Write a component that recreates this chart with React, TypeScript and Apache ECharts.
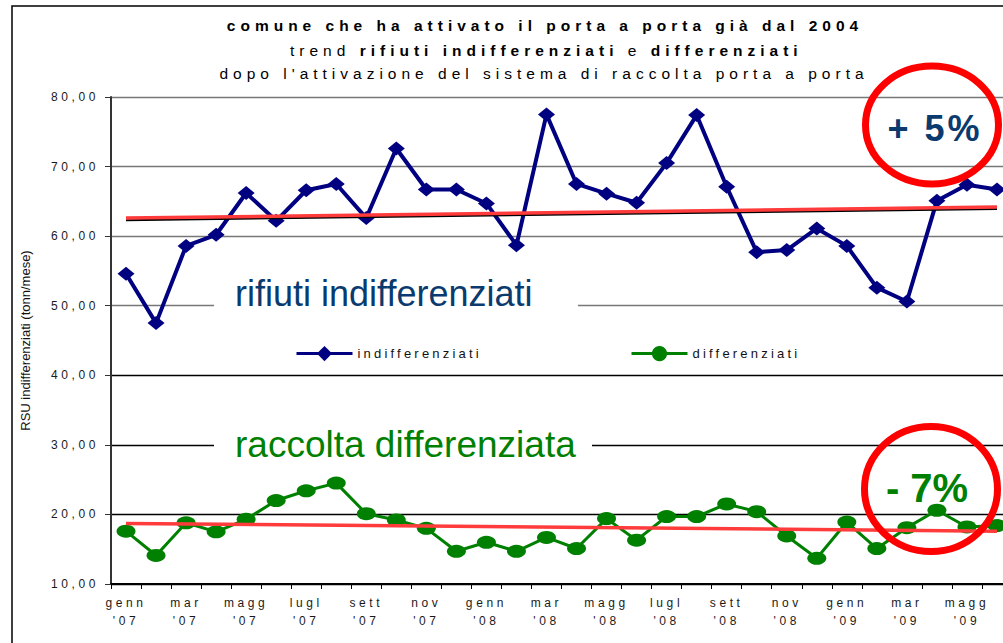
import React, { useEffect, useRef } from 'react';
import * as echarts from 'echarts';

const categories = [
  "genn\n'07", "febb\n'07", "mar\n'07", "apr\n'07", "magg\n'07", "giu\n'07",
  "lugl\n'07", "ago\n'07", "sett\n'07", "ott\n'07", "nov\n'07", "dic\n'07",
  "genn\n'08", "febb\n'08", "mar\n'08", "apr\n'08", "magg\n'08", "giu\n'08",
  "lugl\n'08", "ago\n'08", "sett\n'08", "ott\n'08", "nov\n'08", "dic\n'08",
  "genn\n'09", "febb\n'09", "mar\n'09", "apr\n'09", "magg\n'09", "giu\n'09",
];

const indifferenziati = [
  54.6, 47.5, 58.6, 60.2, 66.2, 62.2, 66.6, 67.5, 62.6, 72.6, 66.7, 66.7,
  64.7, 58.7, 77.5, 67.5, 66.1, 64.8, 70.5, 77.4, 67.1, 57.7, 58.0, 61.1,
  58.6, 52.6, 50.6, 65.1, 67.4, 66.7,
];

const differenziati = [
  17.6, 14.1, 18.8, 17.5, 19.3, 22.0, 23.4, 24.5, 20.1, 19.2, 18.0, 14.7,
  16.0, 14.7, 16.7, 15.1, 19.4, 16.3, 19.7, 19.7, 21.5, 20.4, 16.9, 13.7,
  18.9, 15.1, 18.1, 20.6, 18.2, 18.4,
];

// trend lines: value at first and last month
const trendIndiffRed = [62.6, 64.2];
const trendIndiffBlack = [62.3, 63.9];
const trendDiffRed = [18.7, 17.6];

const yTicks = { min: 10, max: 80, interval: 10 };

const TITLE1 = 'comune che ha attivato il porta a porta già dal 2004';
const TITLE2 = [
  { t: 'trend', b: false },
  { t: 'rifiuti indifferenziati', b: true },
  { t: 'e', b: false },
  { t: 'differenziati', b: true },
];
const TITLE3 = "dopo l'attivazione del sistema di raccolta porta a porta";
const Y_NAME = 'RSU indifferenziati (tonn/mese)';
const LABEL_INDIFF = 'rifiuti indifferenziati';
const LABEL_DIFF = 'raccolta differenziata';
const PCT_INDIFF = '+ 5%';
const PCT_DIFF = '- 7%';

const FONT = 'Liberation Sans';

export default function App() {
  const ref = useRef<HTMLDivElement>(null);

  useEffect(() => {
    const el = ref.current!;
    const chart = echarts.init(el, null, { renderer: 'svg' });

    const titleSp = 5.0;
    const canvas = document.createElement('canvas');
    const ctx = canvas.getContext('2d')!;
    const measure = (t: string, bold: boolean) => {
      ctx.font = `${bold ? 'bold ' : ''}15.5px "${FONT}"`;
      return ctx.measureText(t).width + titleSp * Array.from(t).length;
    };

    const line2Els: any[] = [];
    let x = 290;
    TITLE2.forEach((tok) => {
      line2Els.push({
        type: 'text',
        x,
        y: 50,
        z: 20,
        style: {
          text: tok.t,
          fill: '#000',
          fontSize: 15.5,
          fontWeight: tok.b ? 'bold' : 'normal',
          fontFamily: FONT,
          align: 'left',
          textAlign: 'left',
          verticalAlign: 'middle',
          textVerticalAlign: 'middle',
        },
      });
      x += measure(tok.t, tok.b) + measure(' ', false);
    });

    const txt = (text: string, px: number, py: number, size: number, weight: string, color: string, align = 'center', z = 20) => ({
      type: 'text',
      x: px,
      y: py,
      z,
      style: {
        text,
        fill: color,
        fontSize: size,
        fontWeight: weight,
        fontFamily: FONT,
        align,
        textAlign: align,
        verticalAlign: 'middle',
        textVerticalAlign: 'middle',
      },
    });

    const catCount = categories.length;

    chart.setOption({
      animation: false,
      backgroundColor: '#fff',
      grid: { left: 111, top: 97, width: 901, height: 487, outerBoundsMode: 'none', containLabel: false },
      legend: [
        {
          data: ['indifferenziati'],
          left: 290,
          top: 341,
          itemWidth: 56,
          itemHeight: 19,
          selectedMode: false,
          lineStyle: { width: 3 },
          textStyle: { fontFamily: FONT, fontSize: 13, color: '#111' },
        },
        {
          data: ['differenziati'],
          left: 625,
          top: 341,
          itemWidth: 56,
          itemHeight: 19,
          selectedMode: false,
          lineStyle: { width: 3 },
          textStyle: { fontFamily: FONT, fontSize: 13, color: '#111' },
        },
      ],
      xAxis: {
        type: 'category',
        data: categories,
        boundaryGap: true,
        axisLine: { show: true, lineStyle: { color: '#000', width: 2 } },
        axisTick: { show: true, interval: 0, length: 5, lineStyle: { color: '#000', width: 1 } },
        axisLabel: {
          interval: 1,
          margin: 10,
          fontSize: 12,
          lineHeight: 18,
          color: '#1a1a1a',
          fontFamily: FONT,
        },
        splitLine: { show: false },
      },
      yAxis: {
        type: 'value',
        min: yTicks.min,
        max: yTicks.max,
        interval: yTicks.interval,
        name: Y_NAME,
        nameLocation: 'middle',
        nameGap: 79,
        nameRotate: 90,
        nameTextStyle: { fontFamily: FONT, fontSize: 13, color: '#111' },
        axisLine: { show: true, lineStyle: { color: '#333', width: 2 } },
        axisTick: { show: true, length: 6, lineStyle: { color: '#333', width: 1 } },
        axisLabel: {
          margin: 12,
          fontSize: 12,
          color: '#1a1a1a',
          fontFamily: FONT,
          formatter: (v: number) => v.toFixed(2).replace('.', ','),
        },
        splitLine: {
          show: true,
          lineStyle: {
            color: ['#000', '#000', '#000', '#000', '#777', '#777', '#777', '#777'],
            width: 1.3,
          },
        },
      },
      series: [
        {
          name: 'indifferenziati',
          type: 'line',
          data: indifferenziati,
          symbol: 'diamond',
          symbolSize: [17, 14],
          lineStyle: { color: '#000080', width: 4 },
          itemStyle: { color: '#000080' },
          z: 5,
          silent: true,
        },
        {
          name: 'differenziati',
          type: 'line',
          data: differenziati,
          symbol: 'circle',
          symbolSize: [19, 13],
          lineStyle: { color: '#008000', width: 3 },
          itemStyle: { color: '#008000' },
          z: 5,
          silent: true,
        },
        {
          name: 'trend indifferenziati (media)',
          type: 'line',
          data: [[0, trendIndiffBlack[0]], [catCount - 1, trendIndiffBlack[1]]],
          symbol: 'none',
          lineStyle: { color: '#000', width: 2 },
          z: 6,
          silent: true,
        },
        {
          name: 'trend indifferenziati',
          type: 'line',
          data: [[0, trendIndiffRed[0]], [catCount - 1, trendIndiffRed[1]]],
          symbol: 'none',
          lineStyle: { color: '#ff3b3b', width: 3.5 },
          z: 7,
          silent: true,
        },
        {
          name: 'trend differenziati',
          type: 'line',
          data: [[0, trendDiffRed[0]], [catCount - 1, trendDiffRed[1]]],
          symbol: 'none',
          lineStyle: { color: '#ff3b3b', width: 3.5 },
          z: 7,
          silent: true,
        },
      ],
      graphic: [
        {
          type: 'rect',
          z: 0,
          silent: true,
          shape: { x: 12, y: 6, width: 1200, height: 800 },
          style: { fill: 'none', stroke: '#000', lineWidth: 1.5 },
        },
        {
          type: 'rect',
          z: 1,
          silent: true,
          shape: { x: 214, y: 276, width: 364, height: 44 },
          style: { fill: '#fff' },
        },
        txt(LABEL_INDIFF, 235, 293, 36, 'normal', '#0a3a6e', 'left', 1),
        {
          type: 'rect',
          z: 1,
          silent: true,
          shape: { x: 214, y: 424, width: 378, height: 44 },
          style: { fill: '#fff' },
        },
        txt(LABEL_DIFF, 235, 444, 37, 'normal', '#008000', 'left', 1),
        txt(TITLE1, 545, 25.5, 15.5, 'bold', '#000'),
        ...line2Els,
        txt(TITLE3, 544, 73.5, 15.5, 'normal', '#000'),
        {
          type: 'ellipse',
          z: 30,
          silent: true,
          shape: { cx: 932, cy: 125, rx: 66.5, ry: 59 },
          style: { fill: 'none', stroke: '#ff0000', lineWidth: 7 },
        },
        txt(PCT_INDIFF, 935, 128, 36, 'bold', '#0a3a6e', 'center', 31),
        {
          type: 'ellipse',
          z: 30,
          silent: true,
          shape: { cx: 931, cy: 489, rx: 66.5, ry: 62.5 },
          style: { fill: 'none', stroke: '#ff0000', lineWidth: 7 },
        },
        txt(PCT_DIFF, 927, 488, 40, 'bold', '#008000', 'center', 31),
      ],
    });

    const applySpacing = () => {
      el.querySelectorAll('text').forEach((t) => {
        const content = t.textContent || '';
        if (content === Y_NAME) return;
        const fs = parseFloat(getComputedStyle(t).fontSize);
        let ls = 0;
        if (fs <= 12.5) ls = 3.6;
        else if (fs <= 13.5) ls = 3.2;
        else if (fs <= 16) ls = titleSp;
        else if (content === PCT_INDIFF) ls = 3;
        if (ls) (t as SVGTextElement).style.letterSpacing = ls + 'px';
      });
    };
    applySpacing();
    chart.on('finished', applySpacing);
    const timer = setTimeout(applySpacing, 50);

    return () => {
      clearTimeout(timer);
      chart.dispose();
    };
  }, []);

  return (
    <div
      ref={ref}
      style={{ position: 'fixed', left: 0, top: 0, width: 1003, height: 643, background: '#fff' }}
    />
  );
}
